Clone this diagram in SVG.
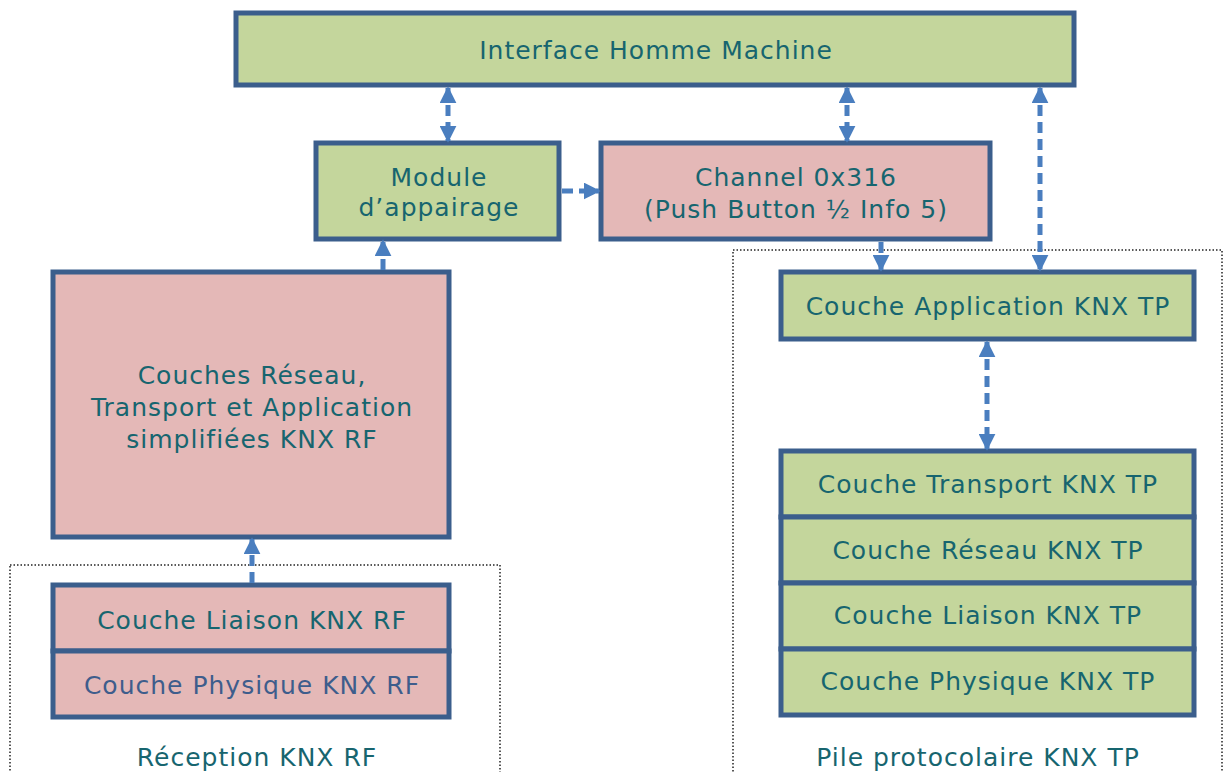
<svg xmlns="http://www.w3.org/2000/svg" width="1224" height="772" viewBox="0 0 1224 772">
<style>
.g{fill:#c4d69c;stroke:#3b5e8c;stroke-width:5}
.p{fill:#e4b8b7;stroke:#3b5e8c;stroke-width:5}
.t{font-family:"DejaVu Sans",Verdana,sans-serif;font-size:25px;letter-spacing:1px;fill:#17656f;text-anchor:middle}
.tb{fill:#3e5d8c}
.dot{fill:none;stroke:#222;stroke-width:1.5;stroke-dasharray:1.5 2}
.c{stroke:#4a7ebf;stroke-width:5;stroke-dasharray:11 6;fill:none}
</style>
<defs>
<marker id="ah" viewBox="0 0 10 10" refX="9" refY="5" markerWidth="3.4" markerHeight="3.4" orient="auto-start-reverse" markerUnits="strokeWidth">
<path d="M0,0 L10,5 L0,10 z" fill="#4a7ebf"/>
</marker>
</defs>
<rect class="dot" x="10" y="565" width="490" height="220"/>
<rect class="dot" x="733" y="250" width="489" height="540"/>
<g id="ihm"><rect class="g" x="236" y="13" width="838" height="72"/><text class="t" x="656" y="59">Interface Homme Machine</text></g>
<g id="module"><rect class="g" x="316" y="143" width="243" height="96"/><text class="t" x="439" y="186">Module</text><text class="t" x="439" y="216">d’appairage</text></g>
<g id="channel"><rect class="p" x="601" y="143" width="389" height="96"/><text class="t" x="796" y="186">Channel 0x316</text><text class="t" x="796" y="218">(Push Button ½ Info 5)</text></g>
<g id="rf-upper"><rect class="p" x="53" y="272" width="396" height="265"/><text class="t" x="252" y="384">Couches Réseau,</text><text class="t" x="252" y="416">Transport et Application</text><text class="t" x="252" y="448">simplifiées KNX RF</text></g>
<g id="rf-liaison"><rect class="p" x="53" y="585" width="396" height="66"/><text class="t" x="252" y="629">Couche Liaison KNX RF</text></g>
<g id="rf-physique"><rect class="p" x="53" y="651" width="396" height="66"/><text class="t tb" x="252" y="694">Couche Physique KNX RF</text></g>
<g id="rf-label"><text class="t" x="257" y="766">Réception KNX RF</text></g>
<g id="tp-app"><rect class="g" x="781" y="272" width="413" height="67"/><text class="t" x="988" y="315">Couche Application KNX TP</text></g>
<g id="tp-transport"><rect class="g" x="781" y="451" width="413" height="66"/><text class="t" x="988" y="493">Couche Transport KNX TP</text></g>
<g id="tp-reseau"><rect class="g" x="781" y="517" width="413" height="66"/><text class="t" x="988" y="559">Couche Réseau KNX TP</text></g>
<g id="tp-liaison"><rect class="g" x="781" y="583" width="413" height="66"/><text class="t" x="988" y="624">Couche Liaison KNX TP</text></g>
<g id="tp-physique"><rect class="g" x="781" y="649" width="413" height="66"/><text class="t" x="988" y="690">Couche Physique KNX TP</text></g>
<g id="tp-label"><text class="t" x="978" y="766">Pile protocolaire KNX TP</text></g>
<g id="connectors">
<line class="c" x1="448" y1="88" x2="448" y2="141" marker-start="url(#ah)" marker-end="url(#ah)"/>
<line class="c" x1="847" y1="88" x2="847" y2="141" marker-start="url(#ah)" marker-end="url(#ah)"/>
<line class="c" x1="1040" y1="88" x2="1040" y2="270" marker-start="url(#ah)" marker-end="url(#ah)"/>
<line class="c" x1="562" y1="191" x2="599" y2="191" marker-end="url(#ah)"/>
<line class="c" x1="881" y1="242" x2="881" y2="270" marker-end="url(#ah)"/>
<line class="c" x1="383" y1="270" x2="383" y2="241" marker-end="url(#ah)"/>
<line class="c" x1="987" y1="342" x2="987" y2="449" marker-start="url(#ah)" marker-end="url(#ah)"/>
<line class="c" x1="252" y1="583" x2="252" y2="539" marker-end="url(#ah)"/>
</g>
</svg>
